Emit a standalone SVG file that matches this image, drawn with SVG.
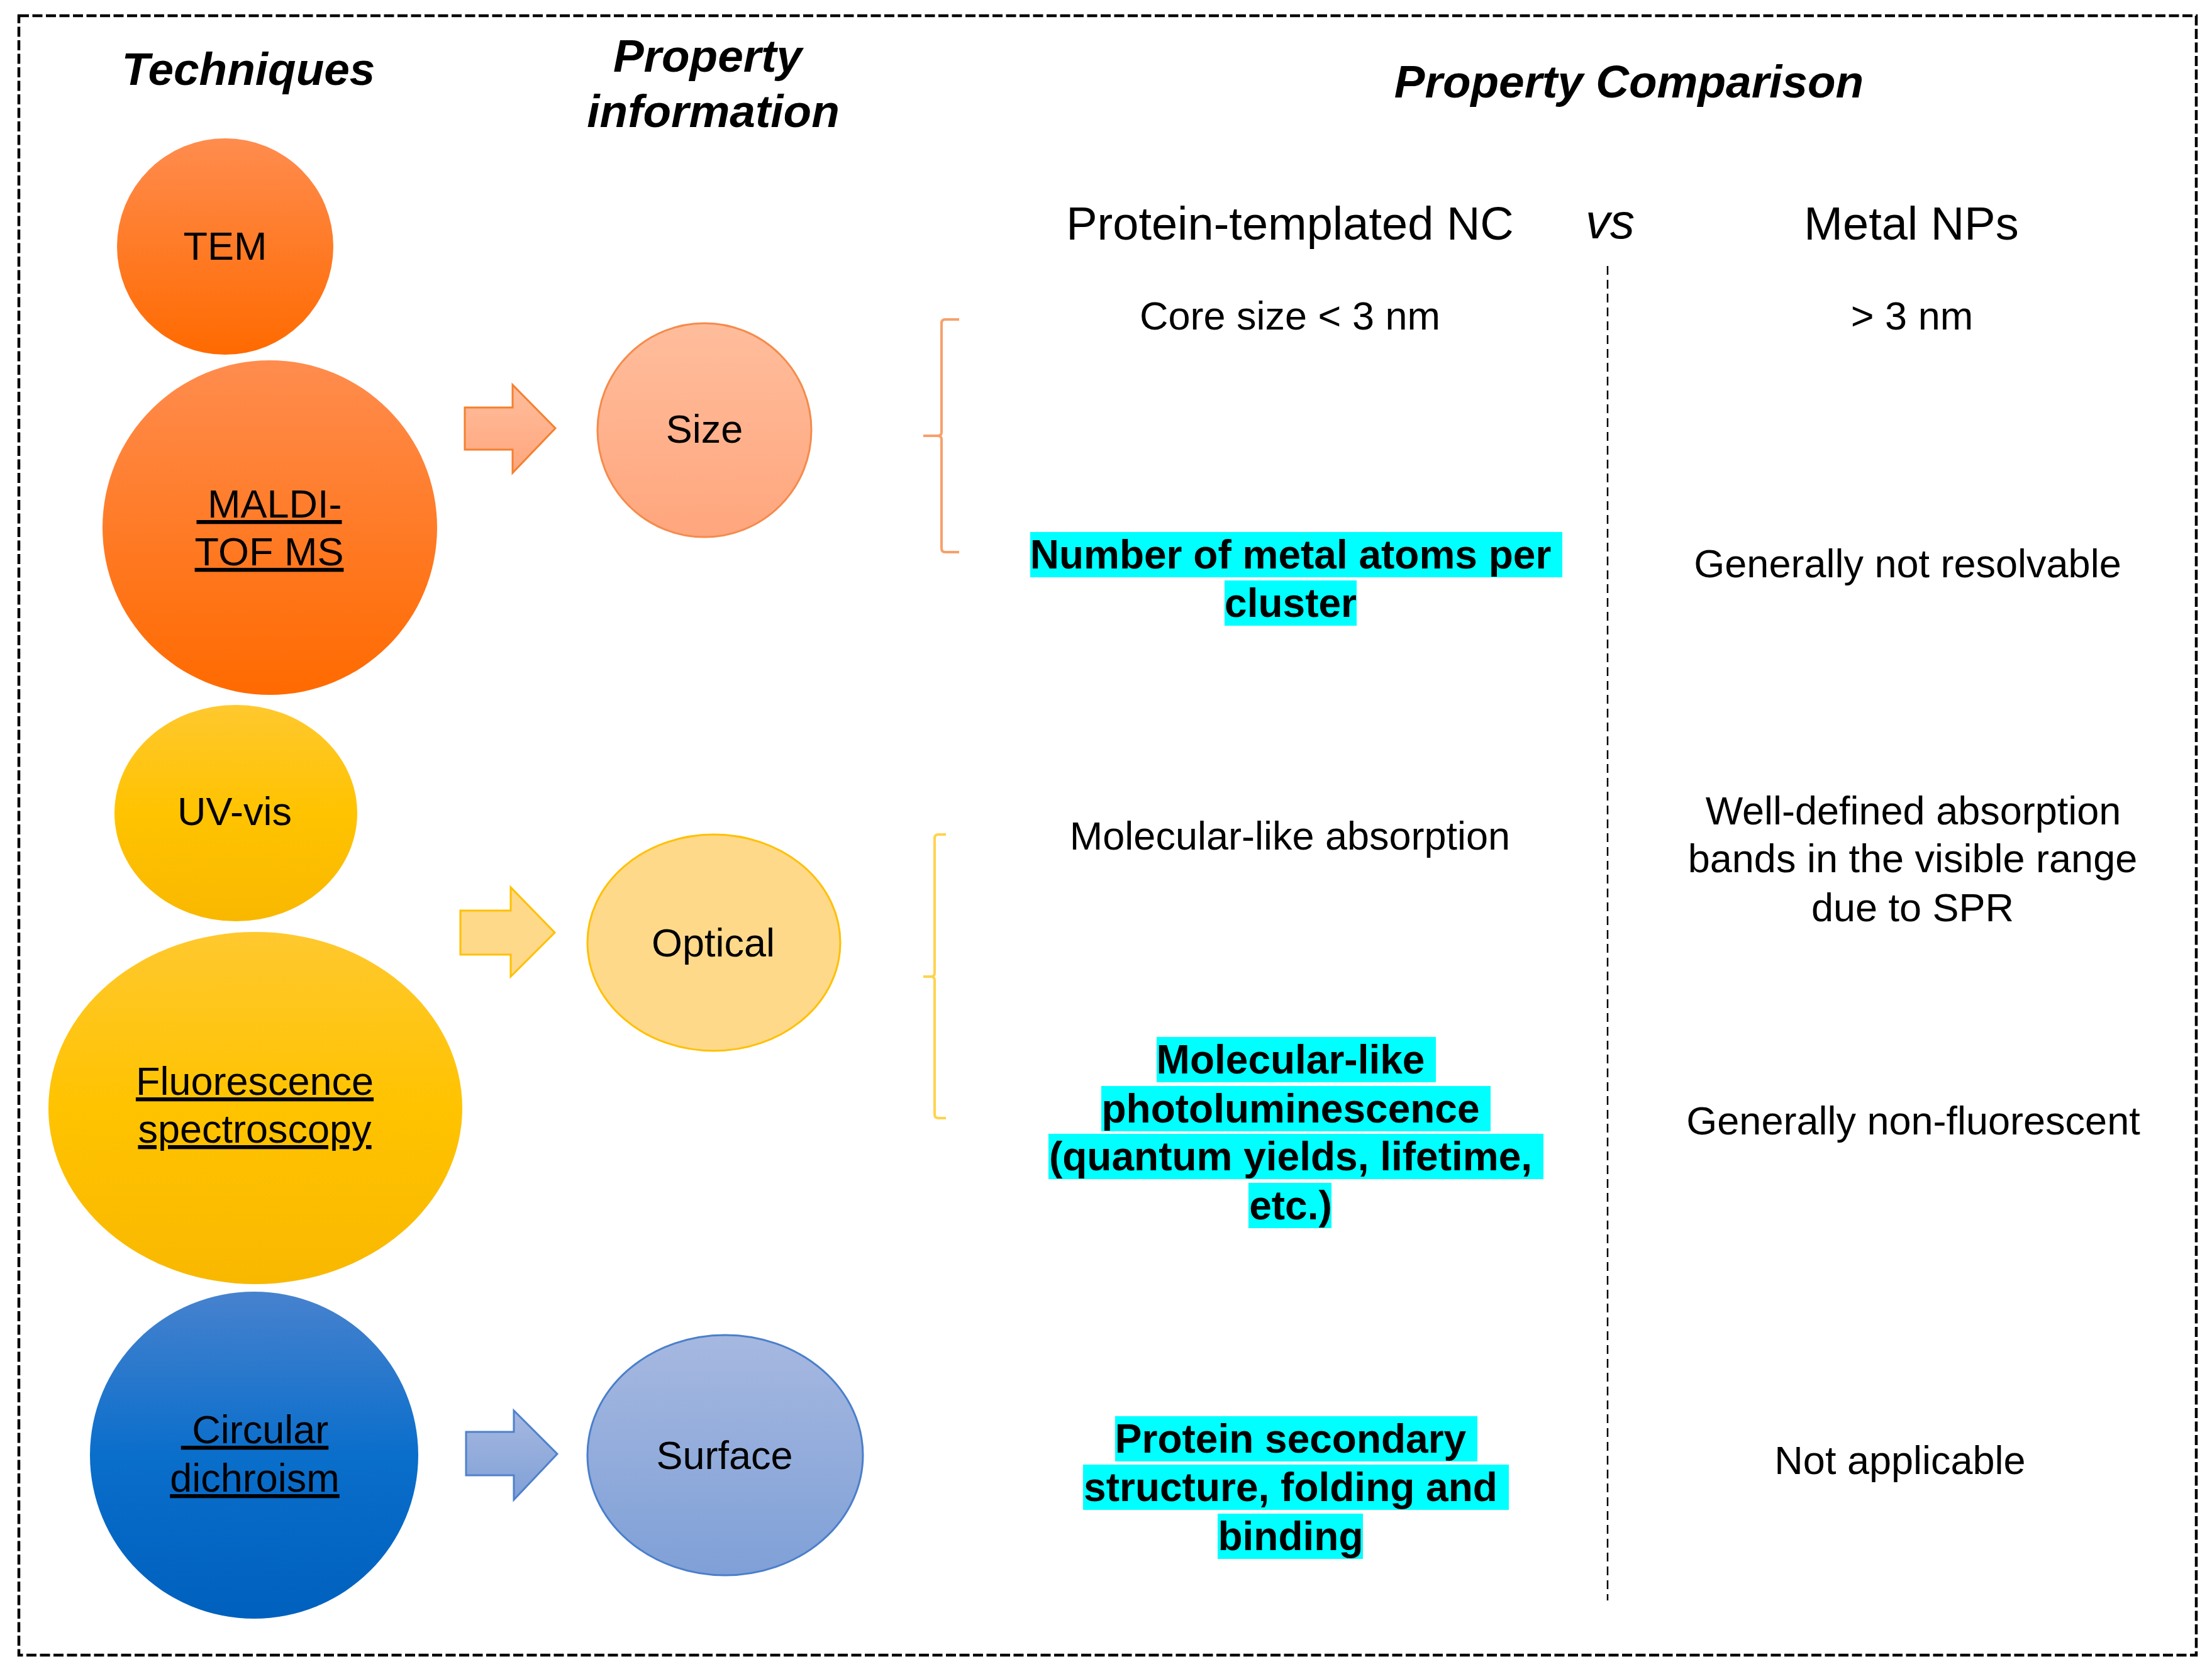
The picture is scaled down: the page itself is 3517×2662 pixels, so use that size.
<svg xmlns="http://www.w3.org/2000/svg" width="3517" height="2662" viewBox="0 0 3517 2662">
<defs>
<linearGradient id="gOrange" x1="0" y1="0" x2="0" y2="1"><stop offset="0" stop-color="#FF8C4E"/><stop offset="1" stop-color="#FF6A00"/></linearGradient>
<linearGradient id="gSize" x1="0" y1="0" x2="0" y2="1"><stop offset="0" stop-color="#FFBD9C"/><stop offset="1" stop-color="#FFA67D"/></linearGradient>
<linearGradient id="gYellow" x1="0" y1="0" x2="0" y2="1"><stop offset="0" stop-color="#FFC82E"/><stop offset="0.5" stop-color="#FFC300"/><stop offset="1" stop-color="#F9B800"/></linearGradient>
<linearGradient id="gBlue" x1="0" y1="0" x2="0" y2="1"><stop offset="0" stop-color="#4782CE"/><stop offset="0.5" stop-color="#0A6ECB"/><stop offset="1" stop-color="#0060BE"/></linearGradient>
<linearGradient id="gSurface" x1="0" y1="0" x2="0" y2="1"><stop offset="0" stop-color="#A6B8E0"/><stop offset="1" stop-color="#7FA0D7"/></linearGradient>
<style>
.t{font-family:"Liberation Sans",Arial,sans-serif;fill:#000;text-anchor:middle}
.title{font-size:73px;font-weight:bold;font-style:italic}
.hd{font-size:74px}
.b{font-size:63px}
.hl{font-size:64px;font-weight:bold}
.u{text-decoration:underline}
.hbox{fill:#00FFFF}
</style>
</defs>
<rect x="30" y="25" width="3462" height="2607" fill="none" stroke="#000" stroke-width="4.5" stroke-dasharray="16 5.5"/>
<g id="titles">
<text class="t title" x="395" y="135">Techniques</text>
<text class="t title" x="1125" y="114">Property</text>
<text class="t title" x="1134" y="202">information</text>
<text class="t title" x="2590" y="155">Property Comparison</text>
</g>
<g id="node-tem"><circle cx="358" cy="392" r="172" fill="url(#gOrange)"/><text class="t b" x="358" y="413">TEM</text></g>
<g id="node-maldi"><circle cx="429" cy="839" r="266" fill="url(#gOrange)"/><text class="t b u" x="428" y="823" xml:space="preserve"> MALDI-</text><text class="t b u" x="428" y="899">TOF MS</text></g>
<g id="node-uvvis"><ellipse cx="375" cy="1293" rx="193" ry="172" fill="url(#gYellow)"/><text class="t b" x="373" y="1312">UV-vis</text></g>
<g id="node-fluor"><ellipse cx="406" cy="1762" rx="329" ry="280" fill="url(#gYellow)"/><text class="t b u" x="405" y="1741">Fluorescence</text><text class="t b u" x="405" y="1817">spectroscopy</text></g>
<g id="node-cd"><ellipse cx="404" cy="2314" rx="261" ry="260" fill="url(#gBlue)"/><text class="t b u" x="405" y="2295" xml:space="preserve"> Circular</text><text class="t b u" x="405" y="2372">dichroism</text></g>
<g id="node-size"><circle cx="1120" cy="684" r="170" fill="url(#gSize)" stroke="#F58B4C" stroke-width="3"/><text class="t b" x="1120" y="704">Size</text></g>
<g id="node-optical"><ellipse cx="1135" cy="1499" rx="201" ry="172" fill="#FFD98A" stroke="#FFC000" stroke-width="3"/><text class="t b" x="1134" y="1521">Optical</text></g>
<g id="node-surface"><ellipse cx="1153" cy="2314" rx="219" ry="191" fill="url(#gSurface)" stroke="#4A7FCB" stroke-width="3"/><text class="t b" x="1152" y="2336">Surface</text></g>
<g id="connectors">
<polygon points="739,648 815,648 815,612 883,681 815,752 815,715 739,715" fill="url(#gSize)" stroke="#F4802F" stroke-width="3"/>
<polygon points="732,1448 812,1448 812,1411 882,1483 812,1553 812,1518 732,1518" fill="#FFD98A" stroke="#FFC000" stroke-width="3"/>
<polygon points="741,2277 817,2277 817,2243 886,2312 817,2385 817,2346 741,2346" fill="url(#gSurface)" stroke="#4F81CC" stroke-width="3"/>
</g>
<g id="braces" fill="none" stroke-width="4">
<path d="M1525,508 L1503,508 Q1497,508 1497,514 L1497,687 Q1497,693 1491,693 L1468,693 M1491,693 Q1497,693 1497,699 L1497,872 Q1497,878 1503,878 L1525,878" stroke="#F7A06A"/>
<path d="M1504,1327 L1492,1327 Q1486,1327 1486,1333 L1486,1547 Q1486,1553 1480,1553 L1468,1553 M1480,1553 Q1486,1553 1486,1559 L1486,1772 Q1486,1778 1492,1778 L1504,1778" stroke="#FFD34D"/>
</g>
<line id="divider" x1="2556" y1="423" x2="2556" y2="2545" stroke="#000" stroke-width="2.5" stroke-dasharray="14 8"/>
<g id="comparison-header">
<text class="t hd" x="2051" y="381">Protein-templated NC</text>
<text class="t" x="2560" y="379" style="font-size:78px;font-style:italic">vs</text>
<text class="t hd" x="3039" y="381">Metal NPs</text>
</g>
<g id="row-size">
<text class="t b" x="2051" y="524">Core size &lt; 3 nm</text>
<text class="t b" x="3040" y="524">&gt; 3 nm</text>
</g>
<g id="row-atoms">
<rect class="hbox" x="1638" y="846" width="846" height="72"/>
<rect class="hbox" x="1947" y="923" width="210" height="72"/>
<text class="t hl" x="2052" y="904">Number of metal atoms per</text>
<text class="t hl" x="2052" y="981">cluster</text>
<text class="t b" x="3033" y="918">Generally not resolvable</text>
</g>
<g id="row-absorption">
<text class="t b" x="2051" y="1351">Molecular-like absorption</text>
<text class="t b" x="3042" y="1311">Well-defined absorption</text>
<text class="t b" x="3041" y="1387">bands in the visible range</text>
<text class="t b" x="3041" y="1465">due to SPR</text>
</g>
<g id="row-pl">
<rect class="hbox" x="1839" y="1649" width="444" height="72"/>
<rect class="hbox" x="1751" y="1727" width="619" height="72"/>
<rect class="hbox" x="1667" y="1803" width="787" height="72"/>
<rect class="hbox" x="1985" y="1881" width="132" height="72"/>
<text class="t hl" x="2052" y="1707">Molecular-like</text>
<text class="t hl" x="2052" y="1785">photoluminescence</text>
<text class="t hl" x="2052" y="1861">(quantum yields, lifetime,</text>
<text class="t hl" x="2052" y="1939">etc.)</text>
<text class="t b" x="3042" y="1804">Generally non-fluorescent</text>
</g>
<g id="row-surface">
<rect class="hbox" x="1773" y="2252" width="576" height="72"/>
<rect class="hbox" x="1722" y="2329" width="677" height="72"/>
<rect class="hbox" x="1936" y="2407" width="231" height="72"/>
<text class="t hl" x="2052" y="2310">Protein secondary</text>
<text class="t hl" x="2052" y="2387">structure, folding and</text>
<text class="t hl" x="2052" y="2465">binding</text>
<text class="t b" x="3021" y="2344">Not applicable</text>
</g>
</svg>
